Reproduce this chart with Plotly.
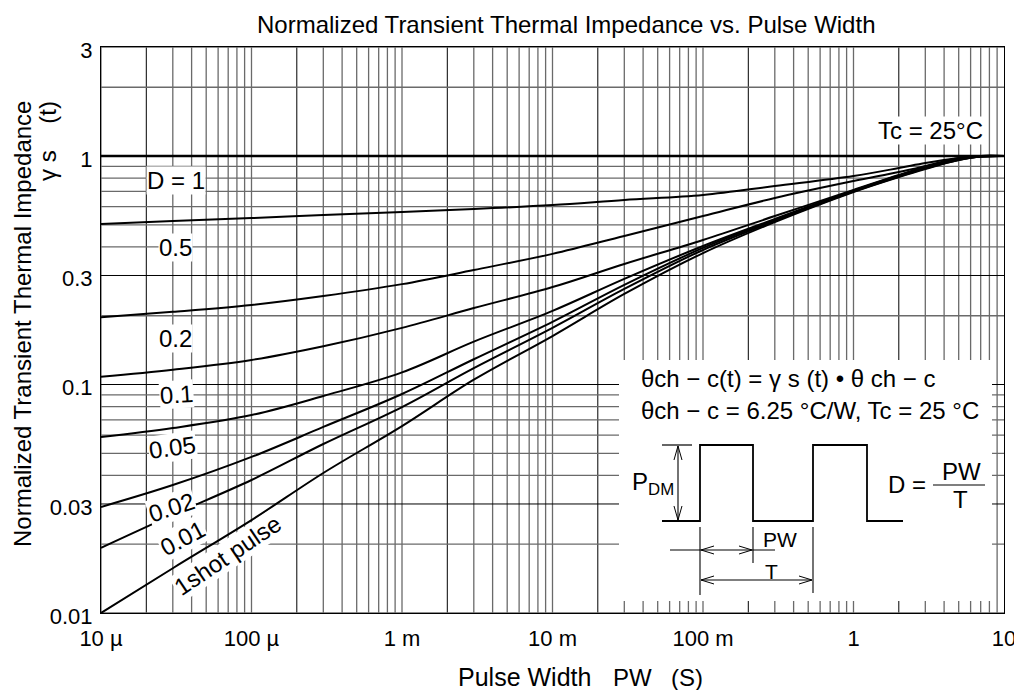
import math
import plotly.graph_objects as go

# ---------------- data ----------------
pulse_width_s = [1e-5, 3e-5, 1e-4, 3e-4, 1e-3, 3e-3, 1e-2, 3e-2, 0.1, 0.3, 1, 2, 3, 5, 7, 10]
gamma_d_1 = [1.0, 1.0, 1.0, 1.0, 1.0, 1.0, 1.0, 1.0, 1.0, 1.0, 1.0, 1.0, 1.0, 1.0, 1.0, 1.0]
gamma_d_0_5 = [0.504, 0.519, 0.535, 0.552, 0.569, 0.586, 0.610, 0.642, 0.675, 0.739, 0.818, 0.886, 0.932, 0.980, 1.0, 1.0]
gamma_d_0_2 = [0.197, 0.208, 0.223, 0.244, 0.275, 0.317, 0.373, 0.447, 0.546, 0.655, 0.777, 0.851, 0.904, 0.980, 1.0, 1.0]
gamma_d_0_1 = [0.108, 0.116, 0.128, 0.147, 0.177, 0.216, 0.267, 0.337, 0.429, 0.546, 0.710, 0.826, 0.895, 0.970, 1.0, 1.0]
gamma_d_0_05 = [0.0589, 0.0645, 0.0735, 0.0891, 0.113, 0.154, 0.210, 0.290, 0.404, 0.530, 0.706, 0.822, 0.890, 0.970, 0.995, 1.0]
gamma_d_0_02 = [0.0291, 0.0363, 0.0482, 0.0652, 0.0909, 0.129, 0.188, 0.273, 0.396, 0.525, 0.703, 0.818, 0.886, 0.965, 0.995, 1.0]
gamma_d_0_01 = [0.0193, 0.0269, 0.0382, 0.0549, 0.0797, 0.118, 0.177, 0.262, 0.388, 0.519, 0.699, 0.813, 0.882, 0.960, 0.995, 1.0]
gamma_single = [0.0100, 0.0157, 0.0255, 0.0410, 0.0658, 0.105, 0.163, 0.249, 0.376, 0.514, 0.696, 0.809, 0.877, 0.960, 0.995, 1.0]

series = [gamma_d_1, gamma_d_0_5, gamma_d_0_2, gamma_d_0_1, gamma_d_0_05, gamma_d_0_02, gamma_d_0_01, gamma_single]
series_names = ["D = 1", "0.5", "0.2", "0.1", "0.05", "0.02", "0.01", "1shot pulse"]

x_tick_vals = [1e-5, 1e-4, 1e-3, 1e-2, 1e-1, 1, 10]
x_tick_text = ["10 µ", "100 µ", "1 m", "10 m", "100 m", "1", "10"]
y_tick_vals = [0.01, 0.03, 0.1, 0.3, 1, 3]
y_tick_text = ["0.01", "0.03", "0.1", "0.3", "1", "3"]

# ---------------- layout geometry ----------------
FONT = "Liberation Sans, Arial, sans-serif"
OFF = 8                      # page body margin of the html page
FIG_W, FIG_H = 1022 - OFF, 690 - OFF
L, T, W, H = 101, 47, 903, 566   # plot area in window pixels
X_LOG = (-5, 1)
Y_LOG = (-2, math.log10(3))


def px(x):
    return (x - L) / W


def py(y):
    return (T + H - y) / H


def xp(v):
    return (math.log10(v) - X_LOG[0]) / (X_LOG[1] - X_LOG[0])


def yp(v):
    return (math.log10(v) - Y_LOG[0]) / (Y_LOG[1] - Y_LOG[0])


fig = go.Figure()
for i, (name, vals) in enumerate(zip(series_names, series)):
    fig.add_trace(go.Scatter(
        x=pulse_width_s, y=vals, mode="lines", name=name,
        line=dict(color="black", width=2.6 if i == 0 else 2.0,
                  shape="spline", smoothing=1.0),
        hoverinfo="skip",
    ))

shapes = []
GRAY = "#6a6a6a"
# vertical grid
for e in range(-5, 1):
    for m in range(1, 10):
        v = m * 10 ** e
        col = "black" if m == 2 else GRAY
        shapes.append(dict(type="line", xref="paper", yref="paper",
                           x0=xp(v), x1=xp(v), y0=0, y1=1, layer="below",
                           line=dict(color=col, width=1.0 if m == 2 else 1.3)))
# horizontal grid
for e in (-2, -1, 0):
    for m in range(1, 10):
        if e == 0 and m > 3:
            break
        v = m * 10 ** e
        black = (m == 3 and e < 0) or (m == 1 and e == -1)
        col = "black" if black else GRAY
        shapes.append(dict(type="line", xref="paper", yref="paper",
                           x0=0, x1=1, y0=yp(v), y1=yp(v), layer="below",
                           line=dict(color=col, width=1.0 if black else 1.3)))
# white inset panel hiding the grid
shapes.append(dict(type="rect", xref="paper", yref="paper",
                   x0=px(619), x1=px(992), y0=py(601), y1=py(360),
                   fillcolor="white", line=dict(width=0), layer="below"))


def seg(x0, y0, x1, y1, w=1.4):
    shapes.append(dict(type="line", xref="paper", yref="paper",
                       x0=px(x0), y0=py(y0), x1=px(x1), y1=py(y1),
                       layer="above", line=dict(color="black", width=w)))


def path(points, w=1.6):
    d = "M " + " L ".join(f"{px(a):.5f},{py(b):.5f}" for a, b in points)
    shapes.append(dict(type="path", xref="paper", yref="paper", path=d,
                       layer="above", line=dict(color="black", width=w)))


# pulse train
path([(662, 521), (700, 521), (700, 445), (753, 445), (753, 521), (813, 521),
      (813, 445), (867, 445), (867, 521), (903, 521)], w=1.8)
# P_DM arrow
seg(662, 445, 692, 445, 1.2)
seg(678, 446, 678, 520, 1.1)
path([(674, 460), (678, 446), (682, 460)], w=1.0)
path([(674, 506), (678, 520), (682, 506)], w=1.0)
# extension lines
seg(700, 527, 700, 595, 1.1)
seg(753, 527, 753, 563, 1.1)
seg(813, 527, 813, 593, 1.1)
# PW arrow
seg(670, 550, 775, 550, 1.1)
path([(714, 546), (701, 550), (714, 554)], w=1.0)
path([(739, 546), (752, 550), (739, 554)], w=1.0)
# T arrow
seg(701, 580, 812, 580, 1.1)
path([(714, 576), (701, 580), (714, 584)], w=1.0)
path([(799, 576), (812, 580), (799, 584)], w=1.0)
# fraction bar
seg(933, 485, 985, 485, 1.2)

ann = []


def text(x, y, s, size=24, angle=0, xanchor="center", yanchor="middle", bg=None):
    d = dict(x=px(x), y=py(y), xref="paper", yref="paper", text=s, showarrow=False,
             textangle=angle, xanchor=xanchor, yanchor=yanchor,
             font=dict(family=FONT, size=size, color="black"), borderpad=0)
    if bg:
        d["bgcolor"] = bg
    ann.append(d)


NB = "\u00a0"
text(566, 25, "Normalized Transient Thermal Impedance vs. Pulse Width", size=24)
text(524, 677, "Pulse Width", size=25)
text(632, 677, "PW", size=24)
text(687, 677, "(S)", size=24)
text(22, 100, "Normalized Transient Thermal Impedance", size=24, angle=-90, yanchor="top")
text(47, 100, "γ" + NB + "s" + NB * 4 + "(t)", size=24, angle=-90, yanchor="top")

label_pos = [(176, 180, 0), (175, 248, 0), (175, 338, 0), (176, 395, -4),
             (172, 448, -8), (171, 507, -18), (182, 538, -28), (227, 555, -34)]
for name, (lx, ly, la) in zip(series_names, label_pos):
    text(lx, ly, name, size=24, angle=la, bg="white")

text(930, 130, "Tc = 25°C", size=24, bg="white")
text(640, 379, "θch − c(t) = γ s (t) • θ ch − c", size=24, xanchor="left")
text(640, 410, "θch − c = 6.25 °C/W, Tc = 25 °C", size=24, xanchor="left")
text(653, 484, "P<sub>DM</sub>", size=24)
text(780, 539, "PW", size=21)
text(771, 571, "T", size=21)
text(907, 485, "D =", size=24)
text(961, 471, "PW", size=24)
text(960, 499, "T", size=24)

axis_common = dict(type="log", showgrid=False, zeroline=False, showline=True, mirror=True,
                   linecolor="black", linewidth=1.2, ticks="", automargin=False,
                   tickfont=dict(family=FONT, size=22, color="black"))

fig.update_layout(
    width=FIG_W, height=FIG_H, autosize=False,
    margin=dict(l=L - OFF, r=FIG_W - (L - OFF) - W, t=T - OFF, b=FIG_H - (T - OFF) - H),
    paper_bgcolor="white", plot_bgcolor="rgba(0,0,0,0)",
    showlegend=False, hovermode=False,
    xaxis=dict(range=list(X_LOG), tickvals=x_tick_vals, ticktext=x_tick_text,
               ticklabelstandoff=5, **axis_common),
    yaxis=dict(range=list(Y_LOG), tickvals=y_tick_vals, ticktext=y_tick_text,
               ticklabelstandoff=3, ticklabelshift=3, **axis_common),
    shapes=shapes, annotations=ann,
)

fig.write_html("out.html")
